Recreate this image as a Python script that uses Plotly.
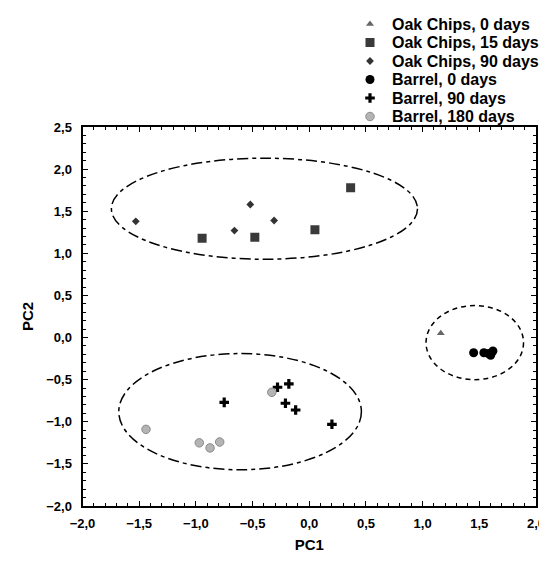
import plotly.graph_objects as go

# Data (PC1, PC2) per group
oak0_x = [1.16]
oak0_y = [0.05]
oak15_x = [0.365, 0.05, -0.48, -0.945]
oak15_y = [1.78, 1.28, 1.19, 1.18]
oak90_x = [-1.53, -0.52, -0.66, -0.31]
oak90_y = [1.38, 1.58, 1.27, 1.39]
bar0_x = [1.45, 1.54, 1.58, 1.62, 1.60]
bar0_y = [-0.18, -0.18, -0.19, -0.16, -0.21]
bar90_x = [-0.75, -0.28, -0.18, -0.21, -0.12, 0.20]
bar90_y = [-0.77, -0.59, -0.55, -0.78, -0.86, -1.03]
bar180_x = [-0.33, -1.44, -0.97, -0.875, -0.79]
bar180_y = [-0.65, -1.09, -1.25, -1.31, -1.24]

group_names = ["Oak Chips, 0 days", "Oak Chips, 15 days", "Oak Chips, 90 days",
               "Barrel, 0 days", "Barrel, 90 days", "Barrel, 180 days"]

# ellipses: center x, center y, half width, half height
ell_cx = [-0.395, -0.61, 1.46]
ell_cy = [1.53, -0.88, -0.06]
ell_rx = [1.35, 1.07, 0.43]
ell_ry = [0.60, 0.69, 0.44]
ell_dash = ["11px,4px,4px,4px", "11px,4px,4px,4px", "5px,4px"]

styles = [
    dict(symbol="triangle-up", size=7, color="#666666"),
    dict(symbol="square", size=9, color="#3a3a3a"),
    dict(symbol="diamond", size=6, color="#333333"),
    dict(symbol="circle", size=9, color="#000000"),
    dict(symbol="cross", size=8, color="#000000"),
    dict(symbol="circle", size=8.5, color="#b4b4b4", line=dict(color="#8a8a8a", width=1)),
]
xs = [oak0_x, oak15_x, oak90_x, bar0_x, bar90_x, bar180_x]
ys = [oak0_y, oak15_y, oak90_y, bar0_y, bar90_y, bar180_y]

fig = go.Figure()
for name, x, y, st in zip(group_names, xs, ys, styles):
    fig.add_trace(go.Scatter(x=x, y=y, mode="markers", name=name, marker=st,
                             showlegend=False, xaxis="x", yaxis="y"))

# legend drawn on its own small axes: one marker per group, names as tick labels
for name, st in zip(group_names, styles):
    fig.add_trace(go.Scatter(x=[0], y=[name], mode="markers", marker=st,
                             showlegend=False, xaxis="x2", yaxis="y2", hoverinfo="skip"))

for cx, cy, rx, ry, d in zip(ell_cx, ell_cy, ell_rx, ell_ry, ell_dash):
    fig.add_shape(type="circle", xref="x", yref="y",
                  x0=cx - rx, x1=cx + rx, y0=cy - ry, y1=cy + ry,
                  line=dict(color="black", width=1.5, dash=d))

# figure size leaves room for the page's 8px body margin (no scrollbars)
W, H = 539, 545
tick_font = dict(family="Liberation Sans", size=13, color="black", weight="bold")
axis_common = dict(
    showgrid=False, zeroline=False, showline=True, linecolor="black", linewidth=2,
    mirror="allticks", ticks="inside", ticklen=5, tickwidth=1, tickcolor="black",
    tickformat=".1f", tickfont=tick_font,
    minor=dict(ticks="inside", ticklen=3, tickcolor="black", dtick=0.1),
)

fig.update_layout(
    width=W, height=H,
    margin=dict(l=0, r=0, t=0, b=0, autoexpand=False),
    paper_bgcolor="white", plot_bgcolor="white",
    separators=",.",
    showlegend=False,
    xaxis=dict(domain=[74.5 / W, 528 / W], range=[-2, 2], dtick=0.5, tick0=-2,
               anchor="y", ticklabelstandoff=4,
               title=dict(text="<b>PC1</b>", font=dict(family="Liberation Sans", size=15, color="black"), standoff=12),
               **axis_common),
    yaxis=dict(domain=[1 - 498 / H, 1 - 119 / H], range=[-2, 2.5], dtick=0.5, tick0=-2,
               anchor="x", ticklabelstandoff=6,
               title=dict(text="<b>PC2</b>", font=dict(family="Liberation Sans", size=15, color="black"), standoff=9),
               **axis_common),
    xaxis2=dict(domain=[352 / W, 372 / W], range=[-1, 1], anchor="y2",
                showgrid=False, zeroline=False, showline=False, showticklabels=False, ticks=""),
    yaxis2=dict(domain=[1 - 117.75 / H, 1 - 6.75 / H], anchor="x2", side="right",
                type="category", categoryorder="array", categoryarray=group_names,
                range=[len(group_names) - 0.5, -0.5],
                tickmode="array", tickvals=group_names, ticktext=group_names,
                showgrid=False, zeroline=False, showline=False, ticks="",
                ticklabelstandoff=11,
                tickfont=dict(family="Liberation Sans", size=16, color="black", weight="bold")),
)

fig.write_html("out.html")
